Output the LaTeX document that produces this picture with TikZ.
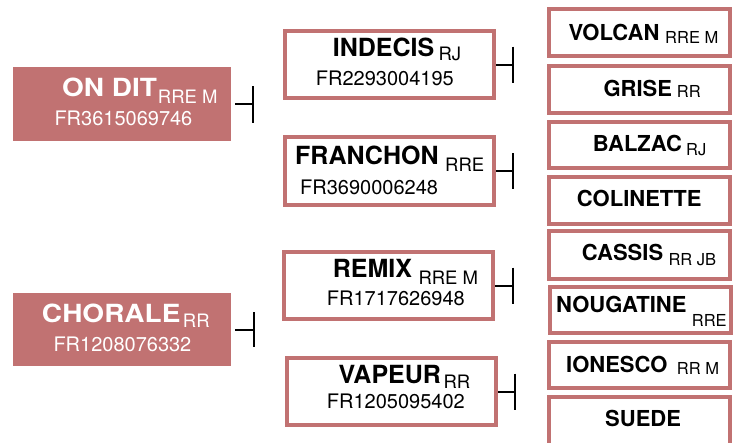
\documentclass[tikz,border=0pt]{standalone}
\usepackage{fontspec}
\setmainfont{TeX Gyre Heros}
\usepackage{graphicx}
\usetikzlibrary{positioning}
\definecolor{pedrose}{RGB}{193,114,114}

\begin{document}
\begin{tikzpicture}[x=1pt, y=-1pt,
  sirebox/.style={fill=pedrose, minimum width=218pt, minimum height=74pt, inner sep=0pt},
  midbox/.style={draw=pedrose, line width=4pt, fill=white, minimum width=209pt, minimum height=67pt, inner sep=0pt},
  farbox/.style={draw=pedrose, line width=4pt, fill=white, minimum width=181pt, minimum height=47pt, inner sep=0pt},
  bignm/.style={anchor=base west, inner sep=0pt, font=\fontsize{25}{25}\selectfont\bfseries},
  smallnm/.style={anchor=base west, inner sep=0pt, font=\fontsize{22}{22}\selectfont\bfseries},
  bigsub/.style={anchor=base west, inner sep=0pt, font=\fontsize{18.5}{18.5}\selectfont},
  smallsub/.style={anchor=base west, inner sep=0pt, font=\fontsize{16.5}{16.5}\selectfont},
  regno/.style={anchor=base west, inner sep=0pt, font=\fontsize{20}{20}\selectfont},
  link/.style={line width=2pt, black}]
\useasboundingbox (0,0) rectangle (749,442);

% Sires (left column)
\node[sirebox] (ondit) at (122,104) {};
\node[bignm, white] (ondit-nm) at (62,96.7) {\scalebox{1.12}[1]{ON DIT}};
\node[bigsub, white] (ondit-sub) at (157.7,103.3) {RRE M};
\node[regno, white] (ondit-no) at (54.3,125) {FR3615069746};

\node[sirebox, minimum height=73pt] (chorale) at (122,329.5) {};
\node[bignm, white] (chorale-nm) at (41.7,322.7) {\scalebox{1.12}[1]{CHORALE}};
\node[bigsub, white] (chorale-sub) at (182.7,327.7) {RR};
\node[regno, white] (chorale-no) at (53.3,351) {FR1208076332};

% Parents (middle column)
\node[midbox] (indecis) at (389.5,64.5) {};
\node[bignm] (indecis-nm) at (332.7,56) {INDECIS};
\node[bigsub] (indecis-sub) at (438.3,60.7) {RJ};
\node[regno] (indecis-no) at (315.7,85) {FR2293004195};

\node[midbox, minimum height=68pt] (franchon) at (389.5,171) {};
\node[bignm] (franchon-nm) at (295,164) {FRANCHON};
\node[bigsub] (franchon-sub) at (445,171.7) {RRE};
\node[regno] (franchon-no) at (300,194) {FR3690006248};

\node[midbox] (remix) at (388.5,285.5) {};
\node[bignm] (remix-nm) at (332.7,277.7) {REMIX};
\node[bigsub] (remix-sub) at (418.3,284) {RRE M};
\node[regno] (remix-no) at (326.7,305) {FR1717626948};

\node[midbox] (vapeur) at (391.5,391.5) {};
\node[bignm] (vapeur-nm) at (338.3,383.3) {VAPEUR};
\node[bigsub] (vapeur-sub) at (443.3,388.3) {RR};
\node[regno] (vapeur-no) at (326.7,408.3) {FR1205095402};

% Grandparents (right column)
\node[farbox] (volcan) at (639.5,32.5) {};
\node[smallnm] (volcan-nm) at (568.3,40.7) {VOLCAN};
\node[smallsub] (volcan-sub) at (665,43.3) {RRE M};

\node[farbox] (grise) at (639.5,89.5) {};
\node[smallnm] (grise-nm) at (603.3,96.7) {GRISE};
\node[smallsub] (grise-sub) at (676.7,97.3) {RR};

\node[farbox, minimum height=46pt] (balzac) at (639.5,145) {};
\node[smallnm] (balzac-nm) at (592.7,151.7) {BALZAC};
\node[smallsub] (balzac-sub) at (686,155) {RJ};

\node[farbox] (colinette) at (639.5,200.5) {};
\node[smallnm] (colinette-nm) at (576.7,206) {COLINETTE};

\node[farbox, minimum height=48pt] (cassis) at (639.5,255) {};
\node[smallnm] (cassis-nm) at (581.7,260.7) {CASSIS};
\node[smallsub] (cassis-sub) at (668.3,265) {RR JB};

\node[farbox, minimum height=46pt] (nougatine) at (640,310) {};
\node[smallnm] (nougatine-nm) at (556,312.7) {NOUGATINE};
\node[smallsub] (nougatine-sub) at (691.7,326) {RRE};

\node[farbox, minimum height=46pt] (ionesco) at (639.5,365) {};
\node[smallnm] (ionesco-nm) at (566,372.7) {IONESCO};
\node[smallsub] (ionesco-sub) at (676.7,374) {RR M};

\node[farbox, minimum height=48pt] (suede) at (639.5,421) {};
\node[smallnm] (suede-nm) at (605,426) {SUEDE};

% Connectors
\coordinate (ondit-j) at (253,104);
\draw[link] ([xshift=4pt]ondit.east) -- (ondit-j);
\draw[link] ([yshift=18pt]ondit-j) -- ([yshift=-19pt]ondit-j);

\coordinate (chorale-j) at (254,329.5);
\draw[link] ([xshift=4pt]chorale.east) -- (chorale-j);
\draw[link] ([yshift=17.5pt]chorale-j) -- ([yshift=-17.5pt]chorale-j);

\coordinate (indecis-j) at (513,64.5);
\draw[link] (indecis.east) -- (indecis-j);
\draw[link] ([yshift=18pt]indecis-j) -- ([yshift=-18pt]indecis-j);

\coordinate (franchon-j) at (513,171);
\draw[link] (franchon.east) -- (franchon-j);
\draw[link] ([yshift=18pt]franchon-j) -- ([yshift=-18pt]franchon-j);

\coordinate (remix-j) at (513,285.5);
\draw[link] (remix.east) -- (remix-j);
\draw[link] ([yshift=18pt]remix-j) -- ([yshift=-18pt]remix-j);

\coordinate (vapeur-j) at (515,391.5);
\draw[link] (vapeur.east) -- (vapeur-j);
\draw[link] ([yshift=18pt]vapeur-j) -- ([yshift=-18pt]vapeur-j);

\end{tikzpicture}
\end{document}
